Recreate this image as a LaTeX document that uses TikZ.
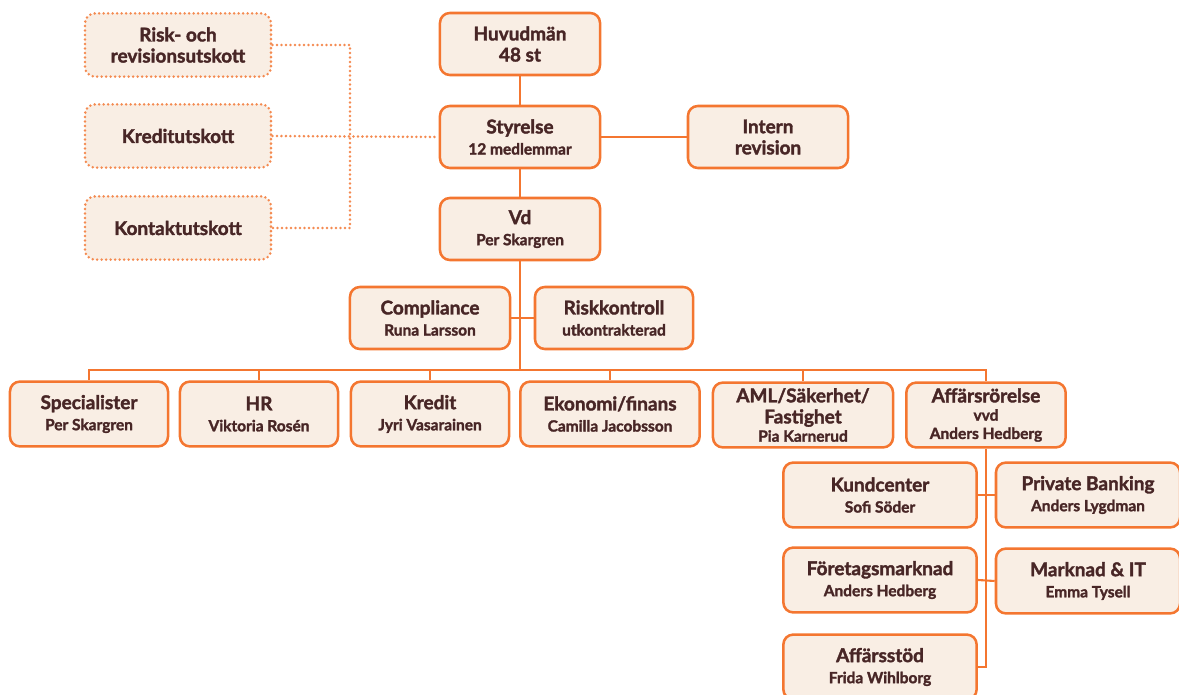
\documentclass[tikz,border=0pt]{standalone}
\usepackage{fontspec}
\setmainfont{Lato}[BoldFeatures={FakeBold=1.8}]
\usepackage{tikz}
\definecolor{borange}{RGB}{244,118,48}
\definecolor{dorange}{RGB}{244,138,80}
\definecolor{bfill}{RGB}{249,238,228}
\definecolor{btext}{RGB}{72,38,38}
\newcommand{\hdfont}{\bfseries\fontsize{13.5}{15}\selectfont}
\newcommand{\subf}{\fontsize{11}{12.5}\selectfont}

\begin{document}
\begin{tikzpicture}[x=0.025cm, y=-0.025cm,
    box/.style={draw=borange, fill=bfill, line width=1.8pt, rounded corners=7pt,
        minimum width=4cm, minimum height=1.55cm, align=center, text=btext,
        font=\hdfont, inner sep=2pt},
    dbox/.style={box, draw=dorange, line width=2pt, dash pattern=on 0pt off 3.2pt,
        line cap=round, minimum width=4.65cm, minimum height=1.58cm},
    rowbox/.style={box, minimum height=1.62cm},
    link/.style={draw=borange, line width=1.5pt},
    dlink/.style={draw=dorange, line width=2pt, dash pattern=on 0pt off 3.2pt, line cap=round}]
\clip (0,0) rectangle (1179,695);

% top of the chart
\node [box] (huv) at (520,44) {Huvudmän\\48 st};
\node [box] (sty) at (520,137) {Styrelse\\{\subf 12 medlemmar}};
\node [box] (intern) at (768,137) {Intern\\revision};
\node [box] (vd) at (520,229) {Vd\\{\subf Per Skargren}};

% committees
\node [dbox] (riskutsk) at (178,45) {Risk- och\\revisionsutskott};
\node [dbox] (kredutsk) at (178,136) {Kreditutskott};
\node [dbox] (kontutsk) at (178,228) {Kontaktutskott};
\coordinate (dj) at (350,137);

\node [box] (comp) at (430,318) {Compliance\\{\subf Runa Larsson}};
\node [box, minimum width=3.95cm] (rkon) at (614,318) {Riskkontroll\\{\subf utkontrakterad}};
\coordinate (bus) at (520,370);

% departments
\node [rowbox, minimum width=3.95cm] (spec) at (89,414) {Specialister\\{\subf Per Skargren}};
\node [rowbox, minimum width=3.95cm] (hr) at (259,414) {HR\\{\subf Viktoria Rosén}};
\node [rowbox, minimum width=3.95cm] (kredit) at (430,414) {Kredit\\{\subf Jyri Vasarainen}};
\node [rowbox, minimum width=4.48cm] (eko) at (610,414) {Ekonomi/finans\\{\subf Camilla Jacobsson}};
\node [rowbox, minimum width=4.5cm] (aml) at (803,415) {AML/Säkerhet/\\Fastighet\\[-2pt]{\subf Pia Karnerud}};
\node [rowbox, minimum width=3.98cm] (affar) at (986,415) {Affärsrörelse\\[-2pt]{\subf vvd}\\[-2pt]{\subf Anders Hedberg}};

% business units
\node [rowbox, minimum width=4.83cm] (kund) at (880,495) {Kundcenter\\{\subf Sofi Söder}};
\node [rowbox, minimum width=4.6cm] (priv) at (1088,495) {Private Banking\\{\subf Anders Lygdman}};
\node [rowbox, minimum width=4.83cm] (fmark) at (880,580) {Företagsmarknad\\{\subf Anders Hedberg}};
\node [rowbox, minimum width=4.6cm] (mark) at (1088,581) {Marknad \& IT\\{\subf Emma Tysell}};
\node [rowbox, minimum width=4.83cm] (stod) at (880,667) {Affärsstöd\\{\subf Frida Wihlborg}};

% connectors
\draw [link] (huv) -- (sty);
\draw [link] (sty) -- (vd);
\draw [link] (sty) -- (intern);
\draw [dlink] (riskutsk.east) -| (dj) |- (kontutsk.east);
\draw [dlink] (kredutsk.east) -- (sty.west);
\draw [link] (vd) -- (bus);
\draw [link] (comp.east) -- (rkon.west);
\draw [link] (spec.north) |- (bus) -| (affar.north);
\foreach \n in {hr,kredit,eko,aml}
    \draw [link] (\n.north) -- (\n.north |- bus);
\draw [link] (affar.south) |- (stod.east);
\draw [link] (kund.east) -- (priv.west);
\draw [link] (fmark.east) -- (mark.west);
\end{tikzpicture}
\end{document}
